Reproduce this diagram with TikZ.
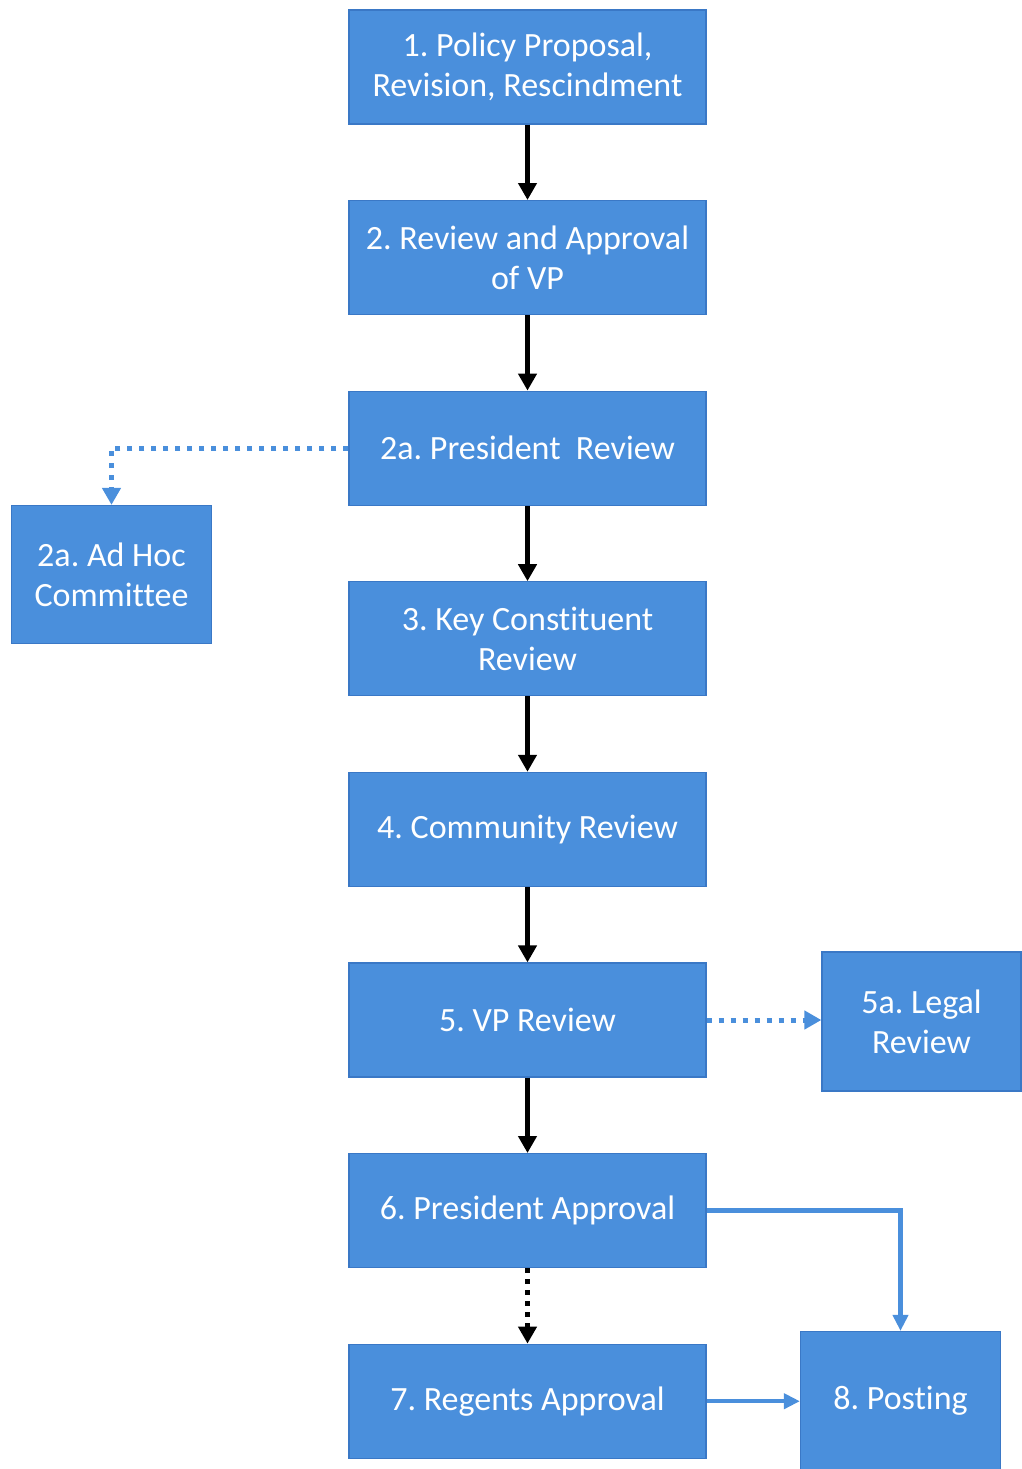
\documentclass[tikz,border=0pt]{standalone}
\usepackage{fontspec}
\setmainfont[Ligatures=NoCommon]{Carlito}
\frenchspacing
\usetikzlibrary{positioning,chains,arrows.meta}
\definecolor{boxblue}{HTML}{4A8FDC}
\definecolor{edgeblue}{HTML}{3A78C6}

\begin{document}
\begin{tikzpicture}[stepbox/.style={rectangle, draw=edgeblue, line width=1.2pt,
    fill=boxblue, text=white, align=center, inner sep=0pt,
    minimum width=357pt, minimum height=114pt, font=\fontsize{34}{40}\selectfont},
  sidebox/.style={stepbox, minimum width=200pt, minimum height=138pt},
  flow/.style={->, line width=5pt, black},
  blackdots/.style={->, line width=5pt, dash pattern=on 5pt off 6pt, black},
  bluedots/.style={->, line width=5pt, dash pattern=on 5pt off 7pt, boxblue},
  blueline/.style={-{Triangle[width=15pt,length=16pt]}, line width=4.5pt, boxblue},
  >={Triangle[width=18pt,length=17pt]}, start chain=going below, node distance=75.4pt]
  \useasboundingbox (0,0) rectangle (1021pt,-1469pt);
  \node[stepbox,on chain] (S1) at (527.5pt,-67pt) {1. Policy Proposal,\\Revision, Rescindment};
  \node[stepbox,on chain] (S2) {2. Review and Approval\\of VP};
  \node[stepbox,on chain] (S2a) {2a. President\ \ Review};
  \node[stepbox,on chain] (S3) {3. Key Constituent\\Review};
  \node[stepbox,on chain] (S4) {4. Community Review};
  \node[stepbox,on chain] (S5) {5. VP Review};
  \node[stepbox,on chain] (S6) {6. President Approval};
  \node[stepbox,on chain] (S7) {7. Regents Approval};
  \node[sidebox] (AdHoc) at (111.5pt,-574.5pt) {2a. Ad Hoc\\Committee};
  \node[sidebox, minimum width=199pt, minimum height=139pt] (S5a) at (921.5pt,-1021.5pt) {5a. Legal\\Review};
  \node[sidebox] (S8) at (900.5pt,-1400.5pt) {8. Posting};
  \foreach \a/\b in {S1/S2, S2/S2a, S2a/S3, S3/S4, S4/S5, S5/S6}
    \draw[flow] (\a) -- (\b);
  \draw[blackdots] (S6) -- (S7);
  \draw[bluedots] (S2a.west) -| (AdHoc.north);
  \draw[bluedots] (S5.east) -- (S5.east -| S5a.west);
  \draw[blueline] (S6.east) -| (S8.north);
  \draw[blueline] (S7.east) -- (S7.east -| S8.west);
\end{tikzpicture}
\end{document}
